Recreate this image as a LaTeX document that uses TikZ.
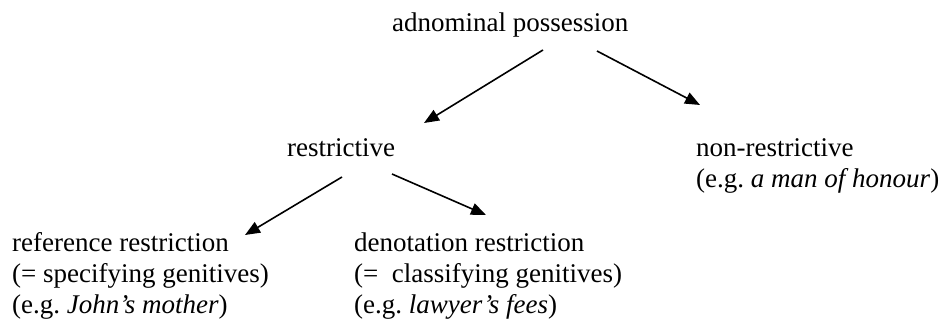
\documentclass[tikz,border=0pt]{standalone}
\usepackage{fontspec}
\setmainfont{Liberation Serif}
\usetikzlibrary{arrows.meta,calc}
\begin{document}
\begin{tikzpicture}[x=1pt,y=-1pt,
  lbl/.style={anchor=base west,inner sep=0pt,font=\fontsize{27}{31}\selectfont},
  arr/.style={line width=1.6pt,-{Triangle[length=15pt,width=12pt]}}]
\useasboundingbox (0,0) rectangle (943,320);
\node[lbl] (top) at (392,32) {adnominal possession};
\node[lbl] (restr) at (287,157) {restrictive};
\node[lbl] (nonr) at (696,157) {\begin{tabular}[t]{@{}l@{}}non-restrictive\\(e.g.\ \textit{a man of honour})\end{tabular}};
\node[lbl] (ref) at (12,252) {\begin{tabular}[t]{@{}l@{}}reference restriction\\(= specifying genitives)\\(e.g.\ \textit{John’s mother})\end{tabular}};
\node[lbl] (den) at (354,252) {\begin{tabular}[t]{@{}l@{}}denotation restriction\\(=\ \ classifying genitives)\\(e.g.\ \textit{lawyer’s fees})\end{tabular}};
\draw[arr] ($(top.base west)+(151,18)$) -- ($(restr.base west)+(137,-34)$);
\draw[arr] ($(top.base west)+(205,19)$) -- ($(nonr.base west)+(4,-52)$);
\draw[arr] ($(restr.base west)+(55,20)$) -- ($(ref.base west)+(233,-17)$);
\draw[arr] ($(restr.base west)+(105,17)$) -- ($(den.base west)+(132,-37)$);
\end{tikzpicture}
\end{document}
